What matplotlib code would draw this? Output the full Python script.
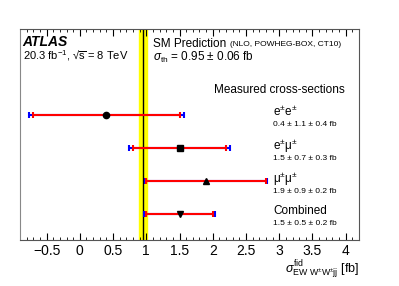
import matplotlib
matplotlib.use("Agg")
import matplotlib.pyplot as plt
from matplotlib.ticker import MultipleLocator

plt.rcParams['font.family'] = ['Liberation Sans', 'DejaVu Sans']
plt.rcParams['mathtext.fontset'] = 'custom'
plt.rcParams['mathtext.rm'] = 'Liberation Sans'
plt.rcParams['mathtext.it'] = 'Liberation Sans:italic'

# measurements: central value, stat error, syst error
channels = ['e$^{\\pm}$e$^{\\pm}$', 'e$^{\\pm}$\u03bc$^{\\pm}$', '\u03bc$^{\\pm}$\u03bc$^{\\pm}$', 'Combined']
value_texts = ['0.4 \u00b1 1.1 \u00b1 0.4 fb', '1.5 \u00b1 0.7 \u00b1 0.3 fb',
               '1.9 \u00b1 0.9 \u00b1 0.2 fb', '1.5 \u00b1 0.5 \u00b1 0.2 fb']
central = [0.4, 1.5, 1.9, 1.5]
stat = [1.1, 0.7, 0.9, 0.5]
syst = [0.4, 0.3, 0.2, 0.2]
ypos = [4, 3, 2, 1]
markers = ['o', 's', '^', 'v']

sm_value = 0.95
sm_err = 0.06

fig = plt.figure(figsize=(3.99, 2.86), dpi=100)
ax = fig.add_axes([20/399, 1 - 240/286, 339/399, 211/286])

ax.axvspan(sm_value - sm_err, sm_value + sm_err, color='#ffff00', zorder=1)
ax.axvline(sm_value, color='black', lw=1.0, zorder=2)

for c, s, sy, y, m in zip(central, stat, syst, ypos, markers):
    tot = (s**2 + sy**2) ** 0.5
    ax.errorbar(c, y, xerr=tot, fmt='none', ecolor='blue', elinewidth=1.5,
                capsize=2.5, capthick=1.5, zorder=3)
    ax.errorbar(c, y, xerr=s, fmt='none', ecolor='red', elinewidth=1.5,
                capsize=2.5, capthick=1.5, zorder=4)
    ax.plot(c, y, marker=m, color='black', ms=4.5, ls='none', zorder=5)

ax.set_xlim(-0.9, 4.2)
ax.set_ylim(0.2, 6.6)
ax.set_yticks([])
ax.xaxis.set_minor_locator(MultipleLocator(0.1))
ax.tick_params(axis='x', which='both', direction='in', top=True, labelsize=10, pad=3)
ax.tick_params(axis='x', which='major', length=5, width=0.8)
ax.tick_params(axis='x', which='minor', length=2.5, width=0.6)
ax.set_xticks([-0.5, 0, 0.5, 1, 1.5, 2, 2.5, 3, 3.5, 4])
ax.set_xticklabels(['\u22120.5', '0', '0.5', '1', '1.5', '2', '2.5', '3', '3.5', '4'])
for sp in ax.spines.values():
    sp.set_color('#555555')
ax.spines['left'].set_color('#888888')

tr = ax.transAxes
ax.text(0.008, 0.938, 'ATLAS', transform=tr, fontsize=10, fontweight='bold',
        fontstyle='italic', va='center', ha='left')
ax.text(0.008, 0.872, '20.3 fb$^{-1}$, \u221a$\\overline{\\mathrm{s}}$ = 8 TeV', transform=tr,
        fontsize=8, va='center', ha='left')
ax.text(0.392, 0.929, 'SM Prediction', transform=tr, fontsize=8.5, va='center', ha='left')
ax.text(0.619, 0.925, '(NLO, POWHEG-BOX, CT10)', transform=tr, fontsize=6,
        va='center', ha='left')
ax.text(0.392, 0.863, '$\\sigma_{\\mathrm{th}}$ = 0.95 \u00b1 0.06 fb', transform=tr,
        fontsize=8.5, va='center', ha='left')
ax.text(0.959, 0.711, 'Measured cross-sections', transform=tr, fontsize=8.5,
        va='center', ha='right')

label_y = [0.607, 0.445, 0.289, 0.137]
value_y = [0.548, 0.387, 0.230, 0.079]
for lab, vt, ly, vy in zip(channels, value_texts, label_y, value_y):
    ax.text(0.746, ly, lab, transform=tr, fontsize=8.5, va='center', ha='left')
    ax.text(0.746, vy, vt, transform=tr, fontsize=6, va='center', ha='left')

fig.text(359/399, 1 - 270/286,
         '$\\sigma^{\\mathrm{fid}}_{\\mathrm{EW\\ W^{\\pm}W^{\\pm}jj}}$ [fb]',
         fontsize=9, ha='right', va='center')

fig.savefig('out.png', dpi=100)
